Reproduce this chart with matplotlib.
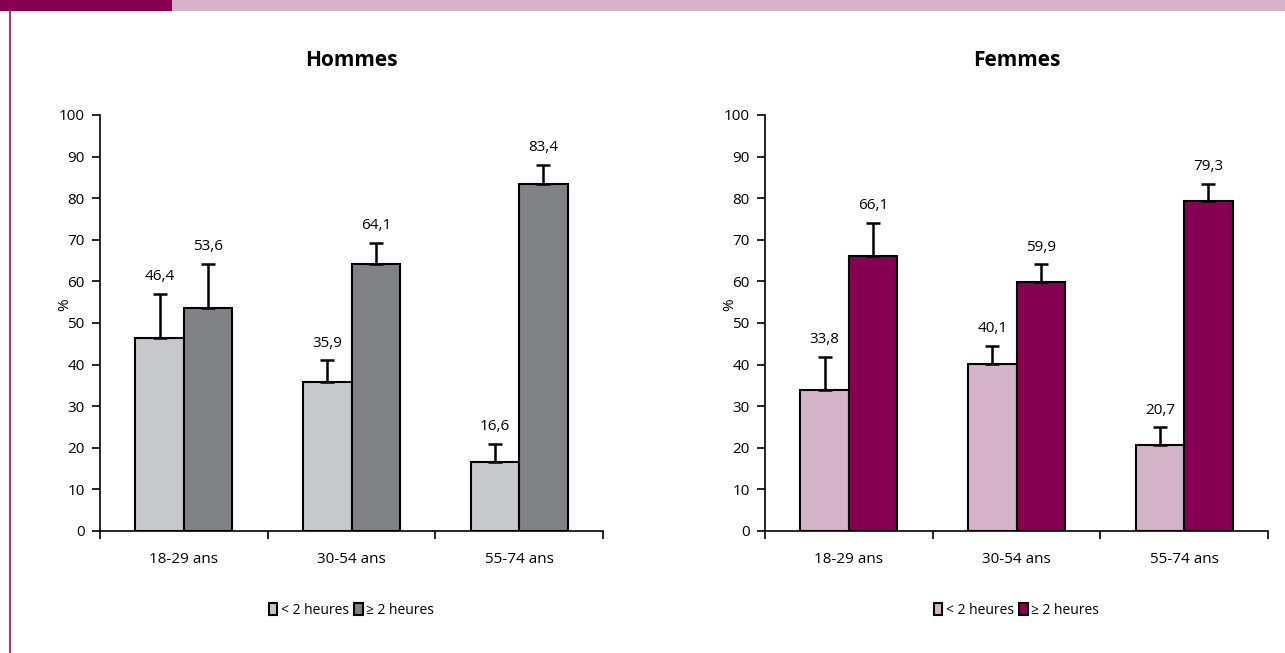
import numpy as np
import matplotlib
matplotlib.use('Agg')
import matplotlib.pyplot as plt
from matplotlib.patches import Rectangle
from matplotlib.lines import Line2D

plt.rcParams['font.family'] = ['Open Sans', 'DejaVu Sans']

# Data
categories = ['18-29 ans', '30-54 ans', '55-74 ans']
series_labels = ['< 2 heures', '≥ 2 heures']

hommes_lt2 = [46.4, 35.9, 16.6]
hommes_ge2 = [53.6, 64.1, 83.4]
hommes_err_lt2 = [10.6, 5.1, 4.4]
hommes_err_ge2 = [10.6, 5.1, 4.6]

femmes_lt2 = [33.8, 40.1, 20.7]
femmes_ge2 = [66.1, 59.9, 79.3]
femmes_err_lt2 = [8.1, 4.4, 4.2]
femmes_err_ge2 = [8.0, 4.2, 4.2]

W, H = 1285, 653
fig = plt.figure(figsize=(W / 100, H / 100), dpi=100)
fig.patch.set_facecolor('white')

# header bands and left border
fig.patches.append(Rectangle((0, 1 - 11 / H), 172 / W, 11 / H, transform=fig.transFigure,
                             facecolor='#85004f', edgecolor='none'))
fig.patches.append(Rectangle((172 / W, 1 - 11 / H), 1 - 172 / W, 11 / H, transform=fig.transFigure,
                             facecolor='#d5b3c8', edgecolor='none'))
fig.lines.append(Line2D([9.5 / W, 9.5 / W], [0, 1 - 11 / H], transform=fig.transFigure,
                        color='#a0206e', linewidth=1.3))


def draw_panel(x0, title, v1, v2, e1, e2, c1, c2):
    ax = fig.add_axes([x0 / W, (H - 531) / H, 503 / W, (531 - 115) / H])
    x = np.arange(len(categories))
    bw = 0.29
    ax.bar(x - bw / 2, v1, bw, color=c1, edgecolor='black', linewidth=1.5, label=series_labels[0], zorder=2)
    ax.bar(x + bw / 2, v2, bw, color=c2, edgecolor='black', linewidth=1.5, label=series_labels[1], zorder=2)
    ax.errorbar(x - bw / 2, v1, yerr=[np.zeros(3), e1], fmt='none', ecolor='black',
                elinewidth=1.8, capsize=5, capthick=1.8, zorder=3)
    ax.errorbar(x + bw / 2, v2, yerr=[np.zeros(3), e2], fmt='none', ecolor='black',
                elinewidth=1.8, capsize=5, capthick=1.8, zorder=3)
    for xs, vals, errs in [(x - bw / 2, v1, e1), (x + bw / 2, v2, e2)]:
        for xi, v, e in zip(xs, vals, errs):
            ax.annotate(f'{v:.1f}'.replace('.', ','), (xi, v + e), xytext=(0, 7),
                        textcoords='offset points', ha='center', va='bottom', fontsize=11)
    ax.set_xlim(-0.5, 2.5)
    ax.set_ylim(0, 100)
    ax.set_yticks(range(0, 101, 10))
    ax.set_xticks([-0.5, 0.5, 1.5, 2.5])
    ax.set_xticklabels([])
    ax.set_xticks(x, minor=True)
    ax.set_xticklabels(categories, minor=True, fontsize=11)
    ax.tick_params(axis='x', which='minor', length=0, pad=15)
    ax.tick_params(axis='x', which='major', direction='out', length=6, width=1.2)
    ax.tick_params(axis='y', direction='out', length=6, width=1.2, labelsize=11, pad=5)
    for s in ['top', 'right']:
        ax.spines[s].set_visible(False)
    for s in ['left', 'bottom']:
        ax.spines[s].set_linewidth(1.2)
    ax.set_ylabel('%', fontsize=11)
    ax.yaxis.set_label_coords(-0.055, 0.543)
    ax.set_title(title, fontsize=15, fontweight='bold', pad=35)
    ax.legend(loc='center', bbox_to_anchor=(0.5, -0.19), ncol=2, frameon=False,
              fontsize=10, handlelength=0.6, handleheight=0.9, handletextpad=0.25,
              columnspacing=0.4)
    return ax


draw_panel(100, 'Hommes', hommes_lt2, hommes_ge2, hommes_err_lt2, hommes_err_ge2, '#c8c9cb', '#808285')
draw_panel(765, 'Femmes', femmes_lt2, femmes_ge2, femmes_err_lt2, femmes_err_ge2, '#d5b3c8', '#850050')

fig.savefig('out.png', dpi=100)
